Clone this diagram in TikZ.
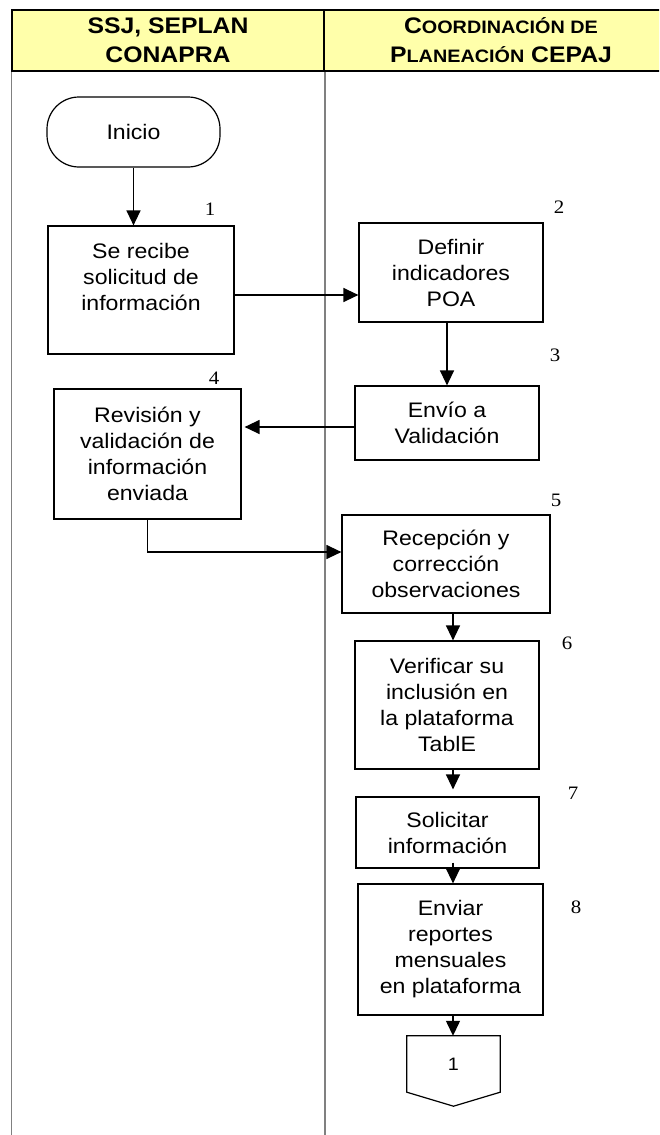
\documentclass[tikz,border=0pt]{standalone}
\usepackage{fontspec}
\setmainfont{Liberation Sans}[FakeStretch=1.1]
\newfontfamily\numserif{Liberation Serif}[FakeStretch=1.1]
\usetikzlibrary{arrows.meta}
\definecolor{hdrfill}{RGB}{255,255,170}
\definecolor{lanegray}{RGB}{128,128,128}
\newcommand\boxfont{\fontsize{21}{26}\selectfont}
\newcommand\hdrfont{\fontsize{22.5}{29}\selectfont\bfseries}
\newcommand\smc[1]{{\fontsize{18}{29}\selectfont #1}}

\begin{document}
\begin{tikzpicture}[x=1pt,y=-1pt,
  lanehead/.style={draw, fill=hdrfill, line width=1.5pt, minimum height=61pt,
    align=center, font=\hdrfont, inner sep=0pt},
  stepbox/.style={draw, line width=1.2pt, align=center, font=\boxfont, inner sep=0pt},
  startend/.style={stepbox, rounded corners=32pt},
  num/.style={font=\numserif\fontsize{19}{19}\selectfont, inner sep=0pt},
  flow/.style={-{Triangle[length=15pt,width=14pt]}, line width=1.3pt}
]
\clip (0,0) rectangle (659,1135);

% lanes
\node[lanehead, minimum width=312pt] (h1) at (168,40.5) {SSJ, SEPLAN\\CONAPRA};
\node[lanehead, minimum width=354pt] (h2) at (501,40.5)
  {C\smc{OORDINACIÓN DE}\\P\smc{LANEACIÓN} CEPAJ};
\draw[lanegray, line width=1.5pt] (h1.south west) -- ++(0,1100);
\draw[lanegray, line width=1.5pt] (h1.south east) -- ++(0,1100);

% steps
\node[startend, minimum width=173pt, minimum height=70pt] (inicio) at (133.5,132) {Inicio};
\node[stepbox, minimum width=186pt, minimum height=128pt] (s1) at (141,290)
  {Se recibe\\solicitud de\\información\\~};
\node[stepbox, minimum width=184pt, minimum height=99pt] (s2) at (451,272.5)
  {Definir\\indicadores\\POA};
\node[stepbox, minimum width=184pt, minimum height=74pt] (s3) at (447,423)
  {Envío a\\Validación};
\node[stepbox, minimum width=187pt, minimum height=130pt] (s4) at (147.5,454)
  {Revisión y\\validación de\\información\\enviada};
\node[stepbox, minimum width=208pt, minimum height=98pt] (s5) at (446,564)
  {Recepción y\\corrección\\observaciones};
\node[stepbox, minimum width=184pt, minimum height=128pt] (s6) at (447,705)
  {Verificar su\\inclusión en\\la plataforma\\TablE};
\node[stepbox, minimum width=183pt, minimum height=71pt] (s7) at (447.5,832.5)
  {Solicitar\\información};
\node[stepbox, minimum width=185pt, minimum height=131pt] (s8) at (450.5,949.5)
  {Enviar\\reportes\\mensuales\\en plataforma};
\node[minimum width=93pt, minimum height=56pt, inner sep=0pt,
  font=\fontsize{18}{18}\selectfont] (c1) at (453.5,1064) {1};
\draw[line width=1.2pt] (c1.north west) -- (c1.north east) -- (c1.south east)
  -- ([yshift=-14pt]c1.south) -- (c1.south west) -- cycle;

% step numbers
\node[num] (n1) at (210,209) {1};
\node[num] (n2) at (559,207) {2};
\node[num] (n3) at (555,355) {3};
\node[num] (n4) at (214,378) {4};
\node[num] (n5) at (556,500) {5};
\node[num] (n6) at (567,643) {6};
\node[num] (n7) at (573,793) {7};
\node[num] (n8) at (576,907) {8};

% flow
\coordinate (spine) at (453,0);
\coordinate (a12) at ([yshift=-5pt]s1.east);
\coordinate (a34) at ([yshift=-4pt]s3.west);
\coordinate (a45) at ([yshift=12pt]s5.west);
\draw[flow] (inicio.south) -- (inicio.south |- s1.north);
\draw[flow] (a12) -- (a12 -| s2.west);
\draw[flow] (s3.north |- s2.south) -- (s3.north);
\draw[flow, shorten >=3pt] (a34) -- (a34 -| s4.east);
\draw[flow] (s4.south) |- (a45);
\draw[flow] (s5.south -| spine) -- (s6.north -| spine);
\draw[flow, shorten >=7pt] (s6.south -| spine) -- (s7.north -| spine);
\draw[flow, shorten <=-6pt] (s7.south -| spine) -- (s8.north -| spine);
\draw[flow] (s8.south -| spine) -- (c1.north -| spine);
\end{tikzpicture}
\end{document}
